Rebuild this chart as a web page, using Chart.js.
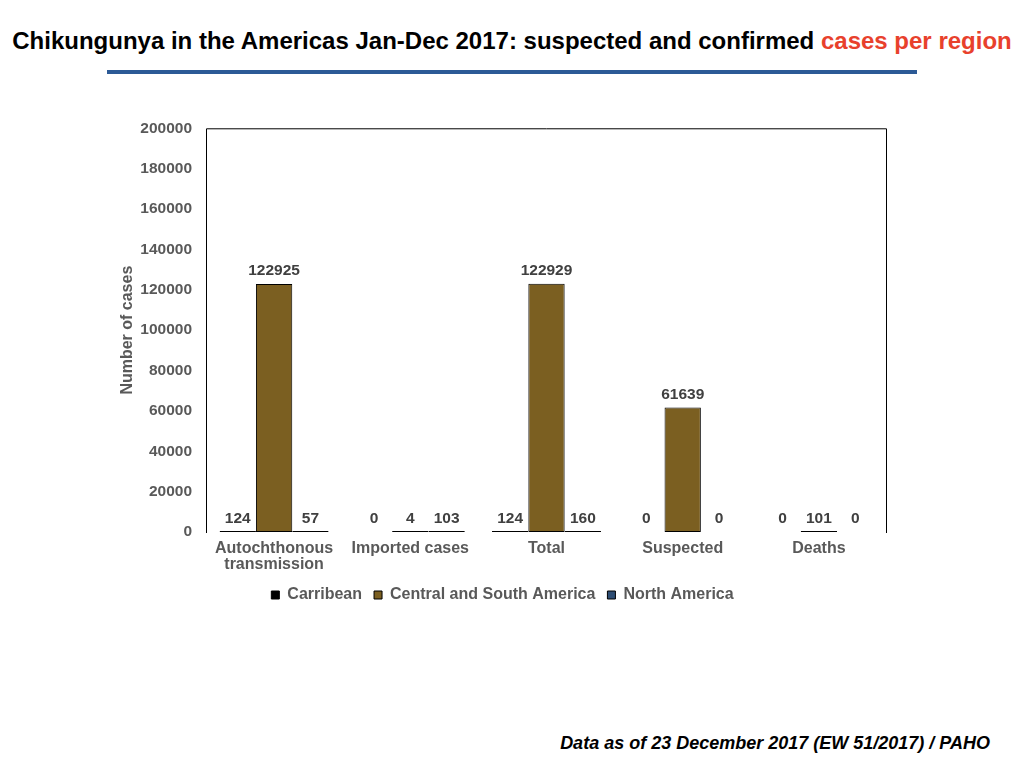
<!DOCTYPE html>
<html>
<head>
<meta charset="utf-8">
<script src="https://cdn.jsdelivr.net/npm/chart.js@4"></script>
<style>
  body { margin: 0; width: 1024px; height: 768px; background: #fff; position: relative; overflow: hidden; font-family: "Liberation Sans", Arial, sans-serif; }
  #title { position: absolute; top: 27px; left: 0; width: 1024px; text-align: center; font-weight: bold; font-size: 24px; color: #000; white-space: nowrap; }
  #title span { color: #E8412C; }
  #rule { position: absolute; top: 70px; left: 107px; width: 810px; height: 4px; background: #2C5A96; }
  #chartBox { position: absolute; left: 104px; top: 105px; width: 800px; height: 525px; }
  #footer { position: absolute; top: 733px; right: 34px; font-weight: bold; font-style: italic; font-size: 18px; color: #000; }
</style>
</head>
<body>
<div id="title">Chikungunya in the Americas Jan-Dec 2017: suspected and confirmed <span>cases per region</span></div>
<div id="rule"></div>
<div id="chartBox"><canvas id="chart"></canvas></div>
<div id="footer">Data as of 23 December 2017 (EW 51/2017) / PAHO</div>
<script>
const categories = [['Autochthonous', 'transmission'], 'Imported cases', 'Total', 'Suspected', 'Deaths'];
const carribean = [124, 0, 124, 0, 0];
const centralSouth = [122925, 4, 122929, 61639, 101];
const northAmerica = [57, 103, 160, 0, 0];

const fontFamily = '"Liberation Sans", Arial, sans-serif';
const tickFont = { family: fontFamily, size: 15.5, weight: 'bold' };
const textFont = { family: fontFamily, size: 16, weight: 'bold' };

// value labels above each bar
const valueLabels = {
  id: 'valueLabels',
  afterDatasetsDraw(chart) {
    const ctx = chart.ctx;
    ctx.save();
    ctx.font = 'bold 15.5px ' + fontFamily;
    ctx.fillStyle = '#404040';
    ctx.textAlign = 'center';
    ctx.textBaseline = 'bottom';
    chart.data.datasets.forEach((ds, i) => {
      chart.getDatasetMeta(i).data.forEach((bar, j) => {
        ctx.fillText(String(ds.data[j]), bar.x, Math.min(bar.y, bar.base) - 5);
      });
    });
    ctx.restore();
  }
};

// plot frame: top, left and right sides
const frame = {
  id: 'frame',
  beforeDatasetsDraw(chart) {
    const { left, right, top, bottom } = chart.chartArea;
    const ctx = chart.ctx;
    ctx.save();
    ctx.strokeStyle = '#000';
    ctx.lineWidth = 1;
    ctx.beginPath();
    ctx.moveTo(left + 0.5, bottom + 1);
    ctx.lineTo(left + 0.5, top + 0.5);
    ctx.lineTo(right - 0.5, top + 0.5);
    ctx.lineTo(right - 0.5, bottom + 1);
    ctx.stroke();
    ctx.restore();
  }
};

function barStyle(color) {
  return {
    backgroundColor: c => (c.raw === 0 ? 'transparent' : color),
    borderColor: c => (c.raw === 0 ? 'transparent' : '#000'),
    borderWidth: 1,
    borderSkipped: false,
    minBarLength: 1
  };
}

new Chart(document.getElementById('chart'), {
  type: 'bar',
  data: {
    labels: categories,
    datasets: [
      Object.assign({ label: 'Carribean', data: carribean }, barStyle('#000000')),
      Object.assign({ label: 'Central and South America', data: centralSouth }, barStyle('#7B5F21')),
      Object.assign({ label: 'North America', data: northAmerica }, barStyle('#2D4D73'))
    ]
  },
  options: {
    responsive: true,
    maintainAspectRatio: false,
    animation: false,
    datasets: { bar: { categoryPercentage: 0.8, barPercentage: 1.0 } },
    layout: { padding: { top: 4, left: 14, right: 17, bottom: 17 } },
    scales: {
      x: {
        grid: { display: false, drawTicks: false },
        border: { display: false },
        ticks: { color: '#595959', font: Object.assign({}, textFont, { lineHeight: 1.0 }), padding: 9, maxRotation: 0 },
        afterFit: s => { s.height = 43; }
      },
      y: {
        min: 0,
        max: 200000,
        grid: { display: false, drawTicks: false },
        border: { display: false },
        ticks: { stepSize: 20000, color: '#595959', font: tickFont, padding: 14, callback: v => String(v) },
        title: { display: true, text: 'Number of cases', color: '#595959', font: textFont, padding: { top: 0, bottom: 4 } },
        afterFit: s => { s.width = 88; }
      }
    },
    plugins: {
      tooltip: { enabled: false },
      legend: {
        position: 'bottom',
        labels: { color: '#595959', font: textFont, boxWidth: 8, boxHeight: 8, padding: 12 }
      }
    }
  },
  plugins: [frame, valueLabels]
});
</script>
</body>
</html>
